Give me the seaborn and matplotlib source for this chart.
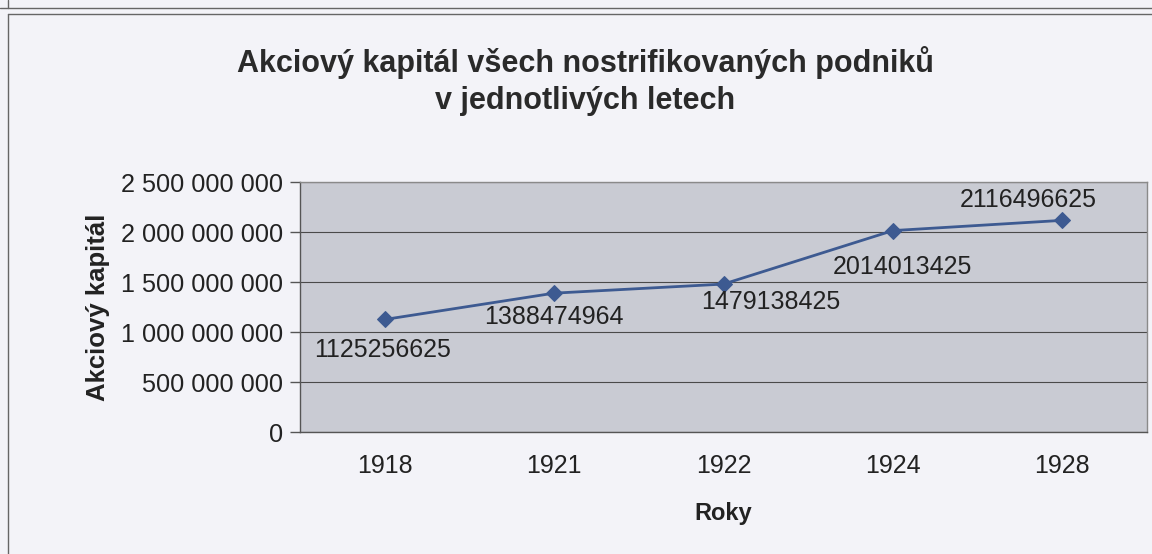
import matplotlib
matplotlib.use("Agg")
import matplotlib.pyplot as plt
import pandas as pd
import seaborn as sns
from matplotlib.lines import Line2D
from matplotlib.ticker import FuncFormatter, MultipleLocator


years = ["1918", "1921", "1922", "1924", "1928"]
capital = [1125256625, 1388474964, 1479138425, 2014013425, 2116496625]

title = "Akciový kapitál všech nostrifikovaných podniků\nv jednotlivých letech"
x_label = "Roky"
y_label = "Akciový kapitál"

# label offsets in px (dx, dy), Excel-style manual placement
label_offsets = [(-2, -31), (0, -24), (47, -18), (10, -36), (-34, 20)]

BG = "#f3f3f8"
PLOT_BG = "#c9cbd3"
LINE = "#3d5a91"


def main() -> None:
    df = pd.DataFrame({"year": years, "capital": capital})

    sns.set_theme(style="white")
    plt.rcParams["font.family"] = ["Liberation Sans", "DejaVu Sans"]

    fig = plt.figure(figsize=(11.52, 5.54), dpi=100, facecolor=BG)
    ax = fig.add_axes([300 / 1152, 122 / 554, 847 / 1152, 250 / 554])
    ax.set_facecolor(PLOT_BG)

    sns.lineplot(data=df, x="year", y="capital", ax=ax, color=LINE,
                 linewidth=2, marker="D", markersize=8,
                 markeredgecolor=LINE, sort=False)

    ax.set_xlim(-0.5, len(years) - 0.5)
    ax.set_ylim(0, 2.5e9)
    ax.yaxis.set_major_locator(MultipleLocator(5e8))
    ax.yaxis.set_major_formatter(
        FuncFormatter(lambda v, _: f"{int(v):,}".replace(",", " ")))
    ax.grid(axis="y", color="#4a4a4a", linewidth=0.8)
    ax.set_axisbelow(True)

    ax.set_xticks(range(len(years)))
    ax.set_xticklabels(years)
    ax.set_xticks([i - 0.5 for i in range(len(years) + 1)], minor=True)
    ax.tick_params(axis="x", which="major", length=0, pad=16,
                   labelsize=18, colors="#222222")
    ax.tick_params(axis="x", which="minor", length=7, width=1,
                   color="#555555", direction="out")
    ax.tick_params(axis="y", length=7, width=1, color="#555555",
                   direction="out", labelsize=18.2, pad=5,
                   labelcolor="#222222", left=True)

    for side in ["top", "right"]:
        ax.spines[side].set_color("#8a8a8a")
        ax.spines[side].set_linewidth(1)
    for side in ["left", "bottom"]:
        ax.spines[side].set_color("#555555")
        ax.spines[side].set_linewidth(1)

    ax.set_xlabel(x_label, fontsize=17, fontweight="bold",
                  color="#222222", labelpad=17)
    ax.set_ylabel(y_label, fontsize=18.5, fontweight="bold",
                  color="#222222", labelpad=8)

    for i, (val, (dx, dy)) in enumerate(zip(capital, label_offsets)):
        ax.annotate(str(val), (i, val), xytext=(dx * 0.72, dy * 0.72),
                    textcoords="offset points", ha="center", va="center",
                    fontsize=18, color="#222222")

    fig.text(585 / 1152, 1 - 81 / 554, title, ha="center", va="center",
             fontsize=22, fontweight="bold", color="#2a2a2a",
             linespacing=1.3)

    # chart frame lines from the scanned page
    fig.add_artist(Line2D([0, 1], [1 - 7.5 / 554] * 2, color="#666666",
                          linewidth=1, transform=fig.transFigure))
    fig.add_artist(Line2D([7.5 / 1152, 1], [1 - 13.5 / 554] * 2,
                          color="#666666", linewidth=1,
                          transform=fig.transFigure))
    fig.add_artist(Line2D([7.5 / 1152] * 2, [0, 1 - 13.5 / 554],
                          color="#666666", linewidth=1,
                          transform=fig.transFigure))
    fig.add_artist(Line2D([7.5 / 1152] * 2, [1 - 7.5 / 554, 1],
                          color="#666666", linewidth=1,
                          transform=fig.transFigure))

    fig.savefig("out.png", dpi=100, facecolor=BG)
    plt.close(fig)


if __name__ == "__main__":
    main()
